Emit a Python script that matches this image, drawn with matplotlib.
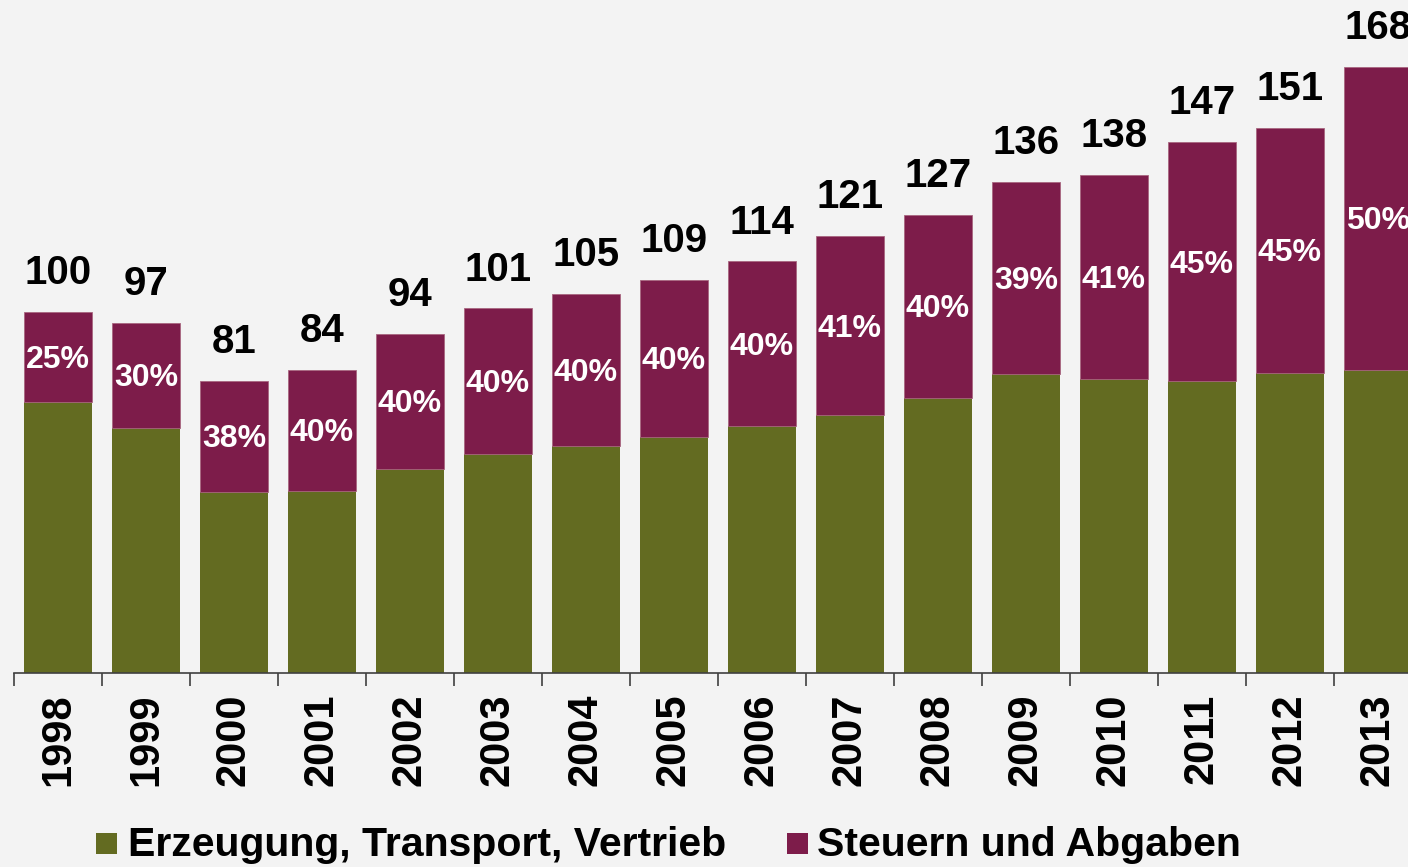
import matplotlib
matplotlib.use("Agg")
import matplotlib.pyplot as plt
from matplotlib.patches import Rectangle
import numpy as np

plt.rcParams['font.family'] = ['Liberation Sans', 'DejaVu Sans']

years = ['1998', '1999', '2000', '2001', '2002', '2003', '2004', '2005',
         '2006', '2007', '2008', '2009', '2010', '2011', '2012', '2013']
totals = [100, 97, 81, 84, 94, 101, 105, 109, 114, 121, 127, 136, 138, 147, 151, 168]
tax_share = [25, 30, 38, 40, 40, 40, 40, 40, 40, 41, 40, 39, 41, 45, 45, 50]
series_names = ['Erzeugung, Transport, Vertrieb', 'Steuern und Abgaben']

green = '#636b21'
purple = '#7d1c4a'
bg = '#f3f3f3'

totals_a = np.array(totals, dtype=float)
share_a = np.array(tax_share, dtype=float) / 100.0
base = totals_a * (1 - share_a)
tax = totals_a - base

fig = plt.figure(figsize=(14.08, 8.67), dpi=100, facecolor=bg)
ax = fig.add_axes([14 / 1408, 194 / 867, 1408 / 1408, 673 / 867])
ax.set_facecolor(bg)

x = np.arange(len(years))
w = 68 / 88
ax.bar(x, base, width=w, color=green, zorder=2)
ax.bar(x, tax, width=w, bottom=base, color=purple, edgecolor='#a8667f',
       linewidth=0.6, zorder=2)

for i in range(len(years)):
    ax.annotate(str(totals[i]), (x[i], totals_a[i]), xytext=(0, 28),
                textcoords='offset points', ha='center', va='center',
                fontsize=29, fontweight='bold', color='black', annotation_clip=False)
    ax.annotate(f'{tax_share[i]}%', (x[i], base[i] + tax[i] / 2), xytext=(0, -2),
                textcoords='offset points', ha='center', va='center',
                fontsize=23, fontweight='bold', color='white', zorder=3)

ax.set_xlim(-0.5, len(years) - 0.5)
ax.set_ylim(0, 673 / 3.61)

for s in ['top', 'right', 'left']:
    ax.spines[s].set_visible(False)
ax.spines['bottom'].set_color('#404040')
ax.spines['bottom'].set_linewidth(1.2)
ax.set_yticks([])
ax.set_xticks(x)
ax.set_xticklabels(years, rotation=90, fontsize=30, fontweight='bold')
ax.tick_params(axis='x', which='major', length=0, pad=15)
ax.set_xticks(np.arange(-0.5, len(years) + 0.5, 1), minor=True)
ax.tick_params(axis='x', which='minor', length=9, width=1.2, color='#404040', direction='out')

# legend
colors = [green, purple]
sq_x = [96, 787]
txt_x = [128, 817]
for c, sx, tx, name in zip(colors, sq_x, txt_x, series_names):
    fig.patches.append(Rectangle((sx / 1408, 1 - 854 / 867), 21 / 1408, 21 / 867,
                                 transform=fig.transFigure, facecolor=c, edgecolor='none'))
    fig.text(tx / 1408, 1 - 845 / 867, name, ha='left', va='center',
             fontsize=29.5, fontweight='bold', color='black')

fig.savefig('out.png', dpi=100, facecolor=bg)
